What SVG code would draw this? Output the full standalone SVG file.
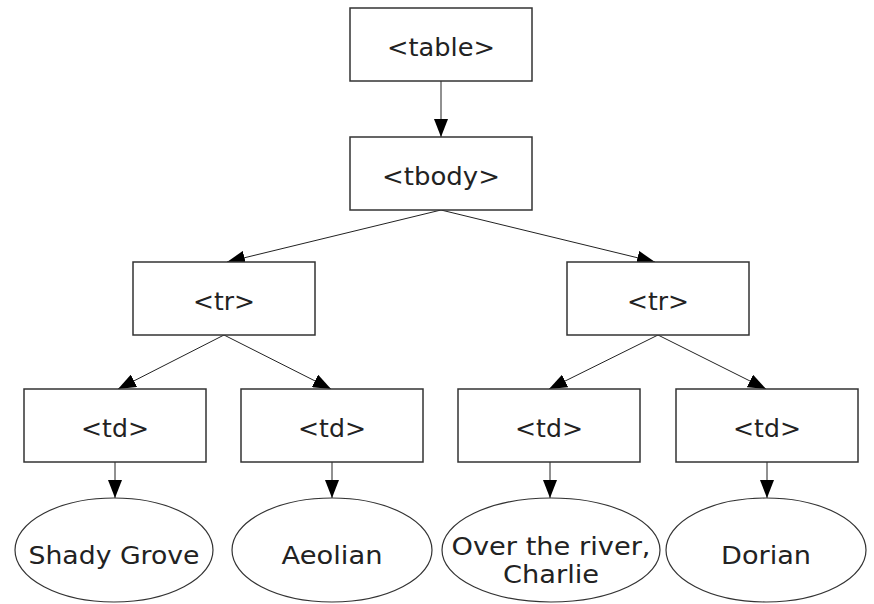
<svg xmlns="http://www.w3.org/2000/svg" width="874" height="604" viewBox="0 0 874 604">
<defs>
<style>
.box{fill:#fff;stroke:#333;stroke-width:1.5}
.ell{fill:#fff;stroke:#333;stroke-width:1.2}
.t{font-family:"DejaVu Sans","Open Sans",sans-serif;font-size:25px;fill:#222;text-anchor:middle}
.c{stroke:#222;stroke-width:1;fill:none;marker-end:url(#ah)}
</style>
<marker id="ah" markerWidth="18" markerHeight="14" refX="18" refY="7" orient="auto" markerUnits="userSpaceOnUse">
<path d="M0,0 L18,7 L0,14 Z" fill="#000"/>
</marker>
</defs>
<rect width="874" height="604" fill="#fff"/>
<g id="connectors">
<line class="c" x1="441" y1="81" x2="441" y2="137"/>
<line class="c" x1="441" y1="210" x2="227" y2="262"/>
<line class="c" x1="441" y1="210" x2="655" y2="262"/>
<line class="c" x1="224" y1="335" x2="118" y2="389"/>
<line class="c" x1="224" y1="335" x2="331" y2="389"/>
<line class="c" x1="658" y1="335" x2="549" y2="389"/>
<line class="c" x1="658" y1="335" x2="766" y2="389"/>
<line class="c" x1="115" y1="462" x2="115" y2="498"/>
<line class="c" x1="332" y1="462" x2="332" y2="498"/>
<line class="c" x1="550" y1="462" x2="550" y2="498"/>
<line class="c" x1="767" y1="462" x2="767" y2="498"/>
</g>
<g id="table"><rect class="box" x="350" y="8" width="182" height="73"/><text class="t" x="441" y="56" textLength="108" lengthAdjust="spacingAndGlyphs">&lt;table&gt;</text></g>
<g id="tbody"><rect class="box" x="350" y="137" width="182" height="73"/><text class="t" x="441" y="185" textLength="118" lengthAdjust="spacingAndGlyphs">&lt;tbody&gt;</text></g>
<g id="tr1"><rect class="box" x="133" y="262" width="182" height="73"/><text class="t" x="224" y="310" textLength="62" lengthAdjust="spacingAndGlyphs">&lt;tr&gt;</text></g>
<g id="tr2"><rect class="box" x="567" y="262" width="182" height="73"/><text class="t" x="658" y="310" textLength="62" lengthAdjust="spacingAndGlyphs">&lt;tr&gt;</text></g>
<g id="td1"><rect class="box" x="24" y="389" width="182" height="73"/><text class="t" x="115" y="437" textLength="68" lengthAdjust="spacingAndGlyphs">&lt;td&gt;</text></g>
<g id="td2"><rect class="box" x="241" y="389" width="182" height="73"/><text class="t" x="332" y="437" textLength="68" lengthAdjust="spacingAndGlyphs">&lt;td&gt;</text></g>
<g id="td3"><rect class="box" x="458" y="389" width="182" height="73"/><text class="t" x="549" y="437" textLength="68" lengthAdjust="spacingAndGlyphs">&lt;td&gt;</text></g>
<g id="td4"><rect class="box" x="676" y="389" width="182" height="73"/><text class="t" x="767" y="437" textLength="68" lengthAdjust="spacingAndGlyphs">&lt;td&gt;</text></g>
<g id="e1"><ellipse class="ell" cx="114" cy="550" rx="99" ry="52"/><text class="t" x="114" y="564" textLength="171" lengthAdjust="spacingAndGlyphs">Shady Grove</text></g>
<g id="e2"><ellipse class="ell" cx="332" cy="550" rx="100" ry="52"/><text class="t" x="332" y="564" textLength="101" lengthAdjust="spacingAndGlyphs">Aeolian</text></g>
<g id="e3"><ellipse class="ell" cx="551" cy="550" rx="109" ry="52"/><text class="t" x="551" y="555" textLength="199" lengthAdjust="spacingAndGlyphs">Over the river,</text><text class="t" x="551" y="583" textLength="96" lengthAdjust="spacingAndGlyphs">Charlie</text></g>
<g id="e4"><ellipse class="ell" cx="766" cy="550" rx="100" ry="52"/><text class="t" x="766" y="564" textLength="90" lengthAdjust="spacingAndGlyphs">Dorian</text></g>
</svg>
